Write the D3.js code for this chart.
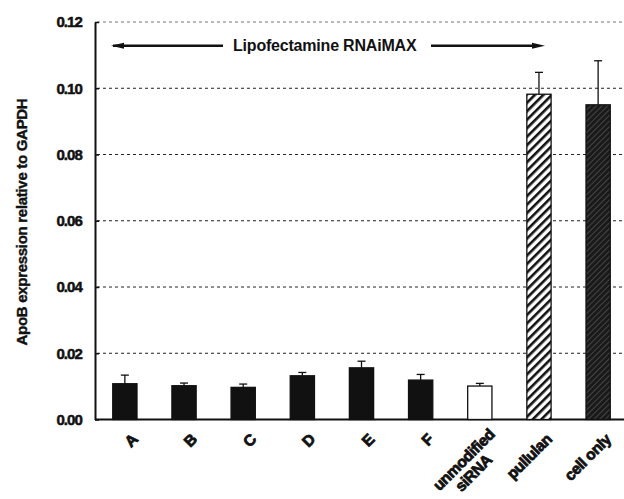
<!DOCTYPE html>
<html><head><meta charset="utf-8">
<script src="https://cdn.jsdelivr.net/npm/d3@7"></script>
<style>body{margin:0;background:#fff}svg{display:block}text{font-family:"Liberation Sans",Arial,sans-serif;font-weight:bold;fill:#111}</style>
</head><body><svg id="c" width="624" height="499"></svg>
<script>
const categories = ["A","B","C","D","E","F","unmodified siRNA","pullulan","cell only"];
const values = [0.0108,0.0102,0.0097,0.0132,0.0156,0.0119,0.0101,0.0982,0.0950];
const errors = [0.0026,0.0008,0.0010,0.0010,0.0020,0.0017,0.0008,0.0066,0.0133];
const fills = ["solid","solid","solid","solid","solid","solid","open","hatch","dark"];
const yTicks = [0,0.02,0.04,0.06,0.08,0.10,0.12];

const svg = d3.select("#c");
const defs = svg.append("defs");
const hp = defs.append("pattern").attr("id","hatch").attr("patternUnits","userSpaceOnUse")
  .attr("width",6).attr("height",6).attr("patternTransform","rotate(45)");
hp.append("rect").attr("width",6).attr("height",6).attr("fill","#fff");
hp.append("rect").attr("width",2.6).attr("height",6).attr("fill","#111");
const dp = defs.append("pattern").attr("id","dark").attr("patternUnits","userSpaceOnUse")
  .attr("width",4).attr("height",4).attr("patternTransform","rotate(45)");
dp.append("rect").attr("width",4).attr("height",4).attr("fill","#1a1a1a");
dp.append("rect").attr("width",1).attr("height",4).attr("fill","#444");

const mLeft = 95, mRight = 628, mTop = 22, mBottom = 419.5;
const x = d3.scaleBand().domain(categories).range([mLeft,mRight]).paddingInner(0.59).paddingOuter(0.3);
const y = d3.scaleLinear().domain([0,0.12]).range([mBottom,mTop]);

// gridlines
svg.append("g").selectAll("line").data(yTicks.filter(d=>d>0)).join("line")
  .attr("x1",mLeft+2).attr("x2",624).attr("y1",d=>y(d)).attr("y2",d=>y(d))
  .attr("stroke",(d)=>d===0.12?"#777":"#222").attr("stroke-width",1.1).attr("stroke-dasharray","3,3");

// y axis
const ya = svg.append("g").attr("transform",`translate(${mLeft},0)`)
  .call(d3.axisLeft(y).tickValues(yTicks).tickFormat(d3.format(".2f")).tickSize(0).tickPadding(13));
ya.select(".domain").attr("stroke","#111").attr("stroke-width",2);
ya.selectAll("text").style("font-size","15px").style("letter-spacing","-0.9px")
  .attr("fill","#111").attr("stroke","#111").attr("stroke-width",0.5);
ya.selectAll(".tick").append("line").attr("x1",0).attr("x2",4).attr("stroke","#111").attr("stroke-width",1.5);

// x axis line
svg.append("line").attr("x1",mLeft).attr("x2",624).attr("y1",mBottom).attr("y2",mBottom)
  .attr("stroke","#111").attr("stroke-width",2);

// bars
const bw = x.bandwidth();
svg.append("g").selectAll("rect").data(categories).join("rect")
  .attr("x",d=>x(d)).attr("width",bw)
  .attr("y",(d,i)=>y(values[i])).attr("height",(d,i)=>mBottom-y(values[i]))
  .attr("fill",(d,i)=>fills[i]==="solid"?"#111":fills[i]==="open"?"#fff":fills[i]==="hatch"?"url(#hatch)":"url(#dark)")
  .attr("stroke","#111").attr("stroke-width",1.3);

// error bars
const eb = svg.append("g").attr("stroke","#111").attr("stroke-width",1.3);
categories.forEach((c,i)=>{
  const cx = x(c)+bw/2;
  eb.append("line").attr("x1",cx).attr("x2",cx).attr("y1",y(values[i])).attr("y2",y(values[i]+errors[i]));
  eb.append("line").attr("x1",cx-4).attr("x2",cx+4).attr("y1",y(values[i]+errors[i])).attr("y2",y(values[i]+errors[i]));
});

// x labels
const xl = svg.append("g");
categories.forEach((c,i)=>{
  const two = c==="unmodified siRNA";
  const cx = x(c)+bw/2+(two?12:10);
  const t = xl.append("text").attr("transform",`translate(${cx},${mBottom+(two?12:17)}) rotate(-45)`)
    .attr("text-anchor","end").style("font-size","15.5px").style("letter-spacing","-0.4px")
    .attr("stroke","#111").attr("stroke-width",0.8);
  const parts = two ? ["unmodified","siRNA"] : [c];
  parts.forEach((p,k)=>t.append("tspan").attr("x",0).attr("dy",k===0?"0.35em":"1.05em").attr("dx",k===1?-20:0).text(p));
});

// y title
svg.append("text").attr("transform",`translate(27,222) rotate(-90)`).attr("text-anchor","middle")
  .style("font-size","15px").style("letter-spacing","-0.3px").attr("stroke","#111").attr("stroke-width",0.4)
  .text("ApoB expression relative to GAPDH");

// arrow annotation
const ay = 45.7;
svg.append("line").attr("x1",113).attr("x2",223).attr("y1",ay).attr("y2",ay).attr("stroke","#111").attr("stroke-width",2.5);
svg.append("path").attr("d",`M111,${ay} L124,${ay-3} L124,${ay+3} Z`).attr("fill","#111");
svg.append("line").attr("x1",431).attr("x2",536).attr("y1",ay).attr("y2",ay).attr("stroke","#111").attr("stroke-width",2.5);
svg.append("path").attr("d",`M545,${ay} L532,${ay-3} L532,${ay+3} Z`).attr("fill","#111");
svg.append("text").attr("x",233).attr("y",ay+5.5).style("font-size","16px").style("letter-spacing","-0.2px")
  .text("Lipofectamine RNAiMAX");
</script></body></html>
